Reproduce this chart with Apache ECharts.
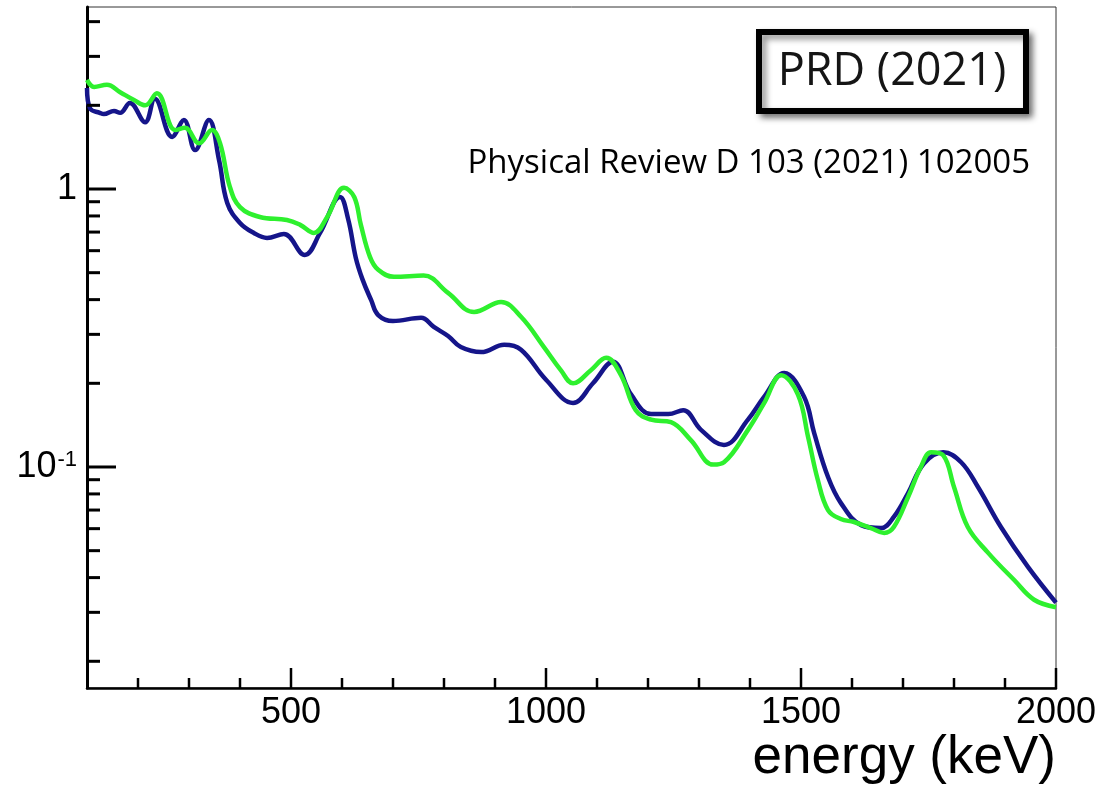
<!DOCTYPE html>
<html>
<head>
<meta charset="utf-8">
<title>energy spectrum</title>
<script src="https://cdn.jsdelivr.net/npm/echarts@6.0.0/dist/echarts.min.js"></script>
<style>
  html, body { margin: 0; padding: 0; background: #ffffff; }
  #chart { width: 1112px; height: 785px; }
</style>
</head>
<body>
<div id="chart"></div>
<script>
// Navy spectrum: energy (keV) and rate
const navyEnergy = [100, 106, 125, 133, 153, 165, 184, 214, 233, 267, 290, 312, 339, 359, 375, 400, 427, 453, 486, 527, 557, 596, 612, 627, 640, 657, 671, 700, 755, 780, 808, 833, 873, 918, 951, 1000, 1053, 1092, 1131, 1167, 1206, 1240, 1269, 1304, 1349, 1396, 1428, 1467, 1506, 1526, 1553, 1578, 1618, 1657, 1682, 1710, 1741, 1779, 1814, 1847, 1892, 1945, 2000];
const navyRate = [2.31, 1.95, 1.88, 1.86, 1.91, 1.88, 2.04, 1.74, 2.11, 1.54, 1.77, 1.38, 1.77, 1.27, 0.891, 0.755, 0.695, 0.667, 0.689, 0.579, 0.695, 0.936, 0.78, 0.566, 0.474, 0.399, 0.352, 0.335, 0.344, 0.319, 0.296, 0.270, 0.259, 0.275, 0.264, 0.206, 0.170, 0.200, 0.239, 0.182, 0.155, 0.155, 0.160, 0.136, 0.120, 0.148, 0.179, 0.218, 0.179, 0.132, 0.092, 0.0743, 0.0618, 0.0603, 0.0661, 0.0806, 0.103, 0.113, 0.104, 0.0847, 0.0608, 0.0437, 0.0325];

// Green spectrum: energy (keV) and rate
const greenEnergy = [100, 114, 139, 165, 192, 214, 237, 273, 292, 320, 345, 361, 380, 400, 439, 492, 518, 545, 571, 604, 624, 637, 655, 671, 702, 760, 808, 859, 912, 951, 996, 1029, 1053, 1088, 1118, 1147, 1176, 1206, 1245, 1284, 1328, 1349, 1396, 1428, 1461, 1494, 1514, 1533, 1553, 1578, 1604, 1637, 1663, 1682, 1710, 1735, 1755, 1779, 1800, 1827, 1867, 1918, 1957, 2000];
const greenRate = [2.47, 2.33, 2.37, 2.23, 2.09, 2.00, 2.21, 1.63, 1.66, 1.46, 1.63, 1.46, 1.02, 0.861, 0.793, 0.774, 0.743, 0.695, 0.793, 1.01, 0.936, 0.743, 0.569, 0.512, 0.483, 0.488, 0.423, 0.361, 0.392, 0.347, 0.270, 0.223, 0.200, 0.223, 0.247, 0.214, 0.160, 0.148, 0.145, 0.125, 0.102, 0.104, 0.136, 0.170, 0.214, 0.182, 0.128, 0.0898, 0.070, 0.065, 0.0634, 0.0603, 0.0579, 0.0608, 0.078, 0.100, 0.113, 0.110, 0.0847, 0.0608, 0.0491, 0.0392, 0.0333, 0.0313];

// Axis ranges and tick positions
const X_MIN = 100, X_MAX = 2000;
const Y_MIN = 0.01603, Y_MAX = 4.516;
const xMajorTicks = [500, 1000, 1500, 2000];
const xMinorTicks = [200, 300, 400, 600, 700, 800, 900, 1100, 1200, 1300, 1400, 1600, 1700, 1800, 1900];
const yMajorTicks = [0.1, 1];
const yMinorTicks = [0.02, 0.03, 0.04, 0.05, 0.06, 0.07, 0.08, 0.09, 0.2, 0.3, 0.4, 0.5, 0.6, 0.7, 0.8, 0.9, 2, 3, 4];

const xTitle = 'energy (keV)';
const boxLabel = 'PRD (2021)';
const refLabel = 'Physical Review D 103 (2021) 102005';

const zip = (xs, ys) => xs.map((x, i) => [x, ys[i]]);

// Inward tick marks drawn from the axis scales
function tickSeries(points, dx, dy, width) {
  return {
    type: 'custom',
    coordinateSystem: 'cartesian2d',
    silent: true,
    clip: false,
    z: 6,
    data: points,
    renderItem: function (params, api) {
      const p = api.coord([api.value(0), api.value(1)]);
      return {
        type: 'line',
        shape: { x1: p[0], y1: p[1], x2: p[0] + dx, y2: p[1] + dy },
        style: { stroke: '#000', lineWidth: width }
      };
    }
  };
}

const chart = echarts.init(document.getElementById('chart'), null, { renderer: 'canvas' });

chart.setOption({
  animation: false,
  backgroundColor: '#ffffff',
  grid: {
    left: 87, right: 56, top: 7, bottom: 97,
    show: true, borderColor: '#333', borderWidth: 1, backgroundColor: 'transparent'
  },
  xAxis: {
    type: 'value',
    min: X_MIN, max: X_MAX, interval: 100,
    axisLine: { show: true, lineStyle: { color: '#000', width: 2.5 } },
    axisTick: { show: false },
    splitLine: { show: false },
    axisLabel: {
      margin: 7,
      color: '#000',
      fontFamily: 'Liberation Sans, Arial, sans-serif',
      fontSize: 36,
      formatter: v => (v % 500 === 0 ? String(v) : '')
    }
  },
  yAxis: {
    type: 'log',
    logBase: 10,
    min: Y_MIN, max: Y_MAX,
    axisLine: { show: true, lineStyle: { color: '#000', width: 3 } },
    axisTick: { show: false },
    splitLine: { show: false },
    axisLabel: {
      margin: 10,
      color: '#000',
      fontFamily: 'Liberation Sans, Arial, sans-serif',
      fontSize: 36,
      formatter: function (v) {
        if (Math.abs(v - 1) < 1e-9) return '1';
        if (Math.abs(v - 0.1) < 1e-10) return '{b|10}{s|-1}';
        return '';
      },
      rich: {
        b: { fontSize: 36, fontFamily: 'Liberation Sans, Arial, sans-serif', color: '#000' },
        s: { fontSize: 22, fontFamily: 'Liberation Sans, Arial, sans-serif', color: '#000', verticalAlign: 'top', padding: [0, 0, 14, 1] }
      }
    }
  },
  series: [
    {
      name: 'navy',
      type: 'line',
      data: zip(navyEnergy, navyRate),
      showSymbol: false,
      smooth: 0.4,
      lineStyle: { color: '#15158a', width: 4.5 },
      z: 3
    },
    {
      name: 'green',
      type: 'line',
      data: zip(greenEnergy, greenRate),
      showSymbol: false,
      smooth: 0.4,
      lineStyle: { color: '#2ef02e', width: 4.5 },
      z: 4
    },
    tickSeries(xMajorTicks.map(v => [v, Y_MIN]), 0, -20, 2.5),
    tickSeries(xMinorTicks.map(v => [v, Y_MIN]), 0, -10, 2.5),
    tickSeries(yMajorTicks.map(v => [X_MIN, v]), 29, 0, 3),
    tickSeries(yMinorTicks.map(v => [X_MIN, v]), 13, 0, 3)
  ],
  graphic: [
    {
      type: 'text',
      right: 56, top: 732,
      style: {
        text: xTitle,
        fill: '#000',
        font: '53px "Liberation Sans", Arial, sans-serif'
      }
    },
    {
      type: 'rect',
      shape: { x: 759, y: 32, width: 267, height: 79 },
      style: {
        fill: '#fff', stroke: '#000', lineWidth: 6,
        shadowBlur: 6, shadowOffsetX: 4, shadowOffsetY: 4, shadowColor: 'rgba(0,0,0,0.45)'
      },
      z: 10
    },
    {
      type: 'text',
      x: 892, y: 72,
      style: {
        text: boxLabel,
        fill: '#151515',
        font: '45px "Open Sans", "Noto Sans", sans-serif',
        textAlign: 'center',
        textVerticalAlign: 'middle'
      },
      z: 11
    },
    {
      type: 'text',
      x: 1030, y: 164,
      style: {
        text: refLabel,
        fill: '#000',
        font: '33px "Open Sans", "Noto Sans", sans-serif',
        textAlign: 'right',
        textVerticalAlign: 'middle'
      },
      z: 11
    }
  ]
});
</script>
</body>
</html>
